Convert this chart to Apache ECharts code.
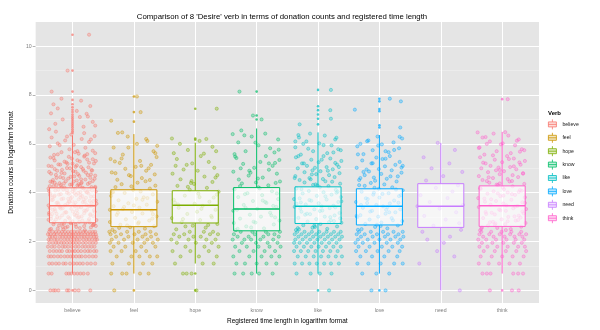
<!DOCTYPE html>
<html><head><meta charset="utf-8">
<script src="https://cdn.jsdelivr.net/npm/echarts@6/dist/echarts.min.js"></script>
<style>html,body{margin:0;padding:0;background:#fff}#c{width:600px;height:330px}</style>
</head><body><div id="c"></div>
<script>
const verbs = ['believe','feel','hope','know','like','love','need','think'];
const colors = ['#F8766D','#CD9600','#7CAE00','#00BE67','#00BFC4','#00A9FF','#C77CFF','#FF61CC'];
const yTicks = [0,2,4,6,8,10];
const yMinor = [1,3,5,7,9];
const xTicks = [1,2,3,4,5,6,7,8];

// box statistics (lower whisker, Q1, median, Q3, upper whisker)
const boxLo  = [0.69,0.69,1.10,0.69,0.69,0.69,0.00,0.69];
const boxQ1  = [2.77,2.61,2.76,2.44,2.74,2.68,2.58,2.62];
const boxMed = [3.47,3.30,3.49,3.33,3.45,3.45,3.45,3.47];
const boxQ3  = [4.20,4.12,4.08,4.21,4.24,4.16,4.37,4.28];
const boxHi  = [6.35,6.40,6.05,6.63,6.47,6.36,6.04,6.49];

// outliers (drawn at category centre)
const outBelieve = [0,6.45,6.52,6.6,6.68,6.75,6.82,6.9,6.98,7.05,7.12,7.2,7.3,7.4,7.5,7.62,7.8,8.14,9.0,10.47];
const outFeel = [0,6.91,7.3,7.94];
const outHope = [0,0.69,6.17,6.22,7.44];
const outKnow = [7.0,7.16,8.14];
const outLike = [0,6.8,7.03,7.2,7.38,7.54,8.21];
const outLove = [0,6.67,6.76,7.34,7.43,7.74,7.85];
const outNeed = [];
const outThink = [0,7.83];

// jittered points: pairs of (offset in 1/100 category, value)
const ptsBelieve = [
-36,0,-31,0,-28,0,-23,0,-9,0,-6,0,4,0,10,0,29,0,
-39,.69,-34,.69,-10,.69,-6,.69,-2,.69,3,.69,8,.69,13,.69,18,.69,25,.69,
-38,1.1,-33,1.1,-27,1.1,-22,1.1,-15,1.1,-11,1.1,-4,1.1,2,1.1,7,1.1,12,1.1,17,1.1,24,1.1,30,1.1,37,1.1,
-39,1.39,-35,1.39,-30,1.39,-24,1.39,-19,1.39,-13,1.39,-8,1.39,-3,1.39,1,1.39,6,1.39,11,1.39,15,1.39,21,1.39,27,1.39,33,1.39,38,1.39,
-37,1.61,-31,1.61,-26,1.61,-21,1.61,-17,1.61,-9,1.61,-5,1.61,0,1.61,4,1.61,9,1.61,14,1.61,20,1.61,25,1.61,29,1.61,35,1.61,39,1.61,
-40,1.79,-34,1.79,-29,1.79,-22,1.79,-16,1.79,-12,1.79,-7,1.79,-1,1.79,5,1.79,10,1.79,16,1.79,21,1.79,26,1.79,31,1.79,36,1.79,
-38,1.95,-32,1.95,-27,1.95,-23,1.95,-18,1.95,-14,1.95,-9,1.95,-4,1.95,1,1.95,6,1.95,11,1.95,17,1.95,22,1.95,28,1.95,33,1.95,38,1.95,
-39,2.08,-35,2.08,-29,2.08,-25,2.08,-19,2.08,-13,2.08,-8,2.08,-3,2.08,3,2.08,7,2.08,12,2.08,18,2.08,23,2.08,27,2.08,32,2.08,37,2.08,40,2.08,
-37,2.2,-33,2.2,-28,2.2,-21,2.2,-16,2.2,-11,2.2,-6,2.2,-1,2.2,4,2.2,9,2.2,15,2.2,19,2.2,24,2.2,30,2.2,35,2.2,39,2.2,
-40,2.3,-36,2.3,-30,2.3,-26,2.3,-20,2.3,-15,2.3,-10,2.3,-5,2.3,0,2.3,5,2.3,10,2.3,14,2.3,20,2.3,25,2.3,29,2.3,34,2.3,38,2.3,
-38,2.4,-32,2.4,-27,2.4,-22,2.4,-17,2.4,-12,2.4,-7,2.4,-2,2.4,3,2.4,8,2.4,13,2.4,18,2.4,22,2.4,28,2.4,33,2.4,37,2.4,
-35,2.52,12,2.55,-8,2.61,30,2.58,-22,2.66,5,2.7,38,2.64,-14,2.73,21,2.77,-30,2.8,0,2.83,16,2.86,-39,2.89,27,2.92,-5,2.95,9,2.98,
-25,3.01,34,3.04,-17,3.07,3,3.1,-33,3.13,19,3.16,-10,3.19,36,3.22,-28,3.25,7,3.28,24,3.31,-2,3.34,-37,3.37,14,3.4,-20,3.43,31,3.46,
-12,3.49,2,3.52,39,3.55,-26,3.58,17,3.61,-6,3.64,28,3.67,-34,3.7,10,3.73,-15,3.76,22,3.79,-1,3.82,35,3.85,-29,3.88,6,3.91,-19,3.94,
26,3.97,-9,4.0,13,4.03,-38,4.06,32,4.09,-23,4.12,1,4.15,18,4.18,-13,4.21,37,4.24,-31,4.27,8,4.3,-4,4.33,25,4.36,-21,4.39,15,4.42,
-36,4.45,33,4.48,
20,2.47,-16,2.6,35,2.71,-3,2.75,-27,2.9,11,3.0,29,3.12,-11,3.21,-32,3.3,4,3.44,23,3.5,-24,3.6,38,3.68,-7,3.75,16,3.86,-36,3.95,
0,4.05,27,4.14,-18,4.23,10,4.35,-29,4.41,34,2.68,-12,2.85,6,3.06,-38,3.18,19,3.27,-21,3.39,31,3.57,-1,3.66,-33,3.8,13,3.9,24,4.02,
-9,4.1,37,4.2,-26,4.31,2,4.46,-15,2.5,28,2.79,-35,3.03,8,3.15,-19,3.35,36,3.47,-5,3.62,18,3.72,-30,3.84,3,3.99,21,4.08,-39,4.17,
12,4.28,-14,4.38,
-37,2.49,-24,2.53,-11,2.57,6,2.6,19,2.63,33,2.67,-31,2.71,-17,2.74,-3,2.78,11,2.81,26,2.85,39,2.88,-35,2.93,-21,2.97,-7,3.0,15,3.03,
29,3.08,-38,3.11,-26,3.14,-13,3.18,1,3.22,22,3.26,35,3.29,-29,3.33,-16,3.36,10,3.41,27,3.45,-39,3.48,-23,3.53,-8,3.56,5,3.6,20,3.63,
34,3.66,-32,3.71,-18,3.74,-3,3.78,13,3.81,30,3.84,-36,3.89,-22,3.92,-6,3.96,9,3.99,23,4.02,38,4.05,-28,4.09,-15,4.13,4,4.16,16,4.2,
31,4.23,-37,4.27,-19,4.31,-1,4.34,14,4.38,28,4.41,-33,4.44,-11,4.47,7,4.5,21,4.54,36,4.57,-26,4.61,-3,4.65,11,4.69,25,4.72,-35,4.78,
-18,4.81,5,4.86,18,4.9,31,4.93,-29,4.97,-9,5.01,14,5.05,-39,5.1,-20,5.15,0,5.19,27,5.23,-13,5.27,8,5.33,33,5.37,-31,5.42,-6,5.47,
20,5.52,-24,5.57,37,5.62,4,5.66,
-32,4.52,14,4.55,-7,4.58,29,4.61,-20,4.64,3,4.67,37,4.7,-27,4.73,9,4.76,-13,4.79,22,4.82,-38,4.85,1,4.88,32,4.91,-17,4.94,17,4.97,
-4,5.0,26,5.04,-34,5.08,7,5.12,-23,5.16,35,5.2,-10,5.24,12,5.28,-29,5.32,24,5.36,-1,5.4,-36,5.44,19,5.48,-15,4.6,30,4.75,-25,4.9,
5,5.06,38,5.3,-8,5.18,
-30,5.55,10,5.6,-18,5.66,33,5.72,-5,5.78,21,5.84,-37,5.9,2,5.96,-24,6.02,27,6.08,-12,6.14,15,6.2,-34,6.26,36,6.32,-2,6.38,19,6.44,
-27,6.5,8,5.7,-21,5.95,30,6.18,-9,6.3,24,5.58,
-38,6.6,18,6.7,-28,6.82,33,6.9,-16,7.0,25,7.12,-35,7.25,7,7.35,-24,7.45,29,7.55,-31,7.62,12,7.1,-18,7.85,14,7.77,37,6.75,23,7.23,
27,10.47,-34,8.14,-8,9.0
];
const ptsFeel = [
-32,0,
-37,.69,-19,.69,-12,.69,10,.69,24,.69,
-35,1.1,-8,1.1,15,1.1,30,1.1,
-28,1.39,-4,1.39,9,1.39,26,1.39,38,1.39,
-38,1.61,-20,1.61,3,1.61,20,1.61,
-33,1.79,-14,1.79,12,1.79,35,1.79,
-25,1.95,-2,1.95,17,1.95,31,1.95,-39,1.95,
-36,2.08,-16,2.08,6,2.08,22,2.08,39,2.08,
-29,2.2,-9,2.2,14,2.2,28,2.2,
-38,2.3,-21,2.3,1,2.3,19,2.3,36,2.3,
-31,2.4,-11,2.4,8,2.4,27,2.4,-40,2.4,
-35,2.48,18,2.53,-6,2.59,33,2.63,-22,2.69,7,2.74,-39,2.8,25,2.86,-13,2.91,2,2.97,37,3.03,-28,3.09,14,3.15,-3,3.21,29,3.27,-18,3.33,
9,3.39,-33,3.45,21,3.51,-9,3.57,38,3.63,-25,3.69,4,3.75,16,3.81,-37,3.87,31,3.93,-15,3.99,11,4.05,-1,4.11,26,4.17,-30,4.23,35,4.29,
-20,4.35,6,4.41,19,4.47,-11,2.66,30,2.94,-26,3.18,0,3.48,22,3.78,-34,4.02,
-24,2.56,8,2.79,31,3.12,-16,3.42,14,3.71,-36,4.0,-4,4.26,26,4.52,-30,4.8,12,5.1,-20,5.4,35,5.62,-9,5.85,20,6.2,-39,3.3,
-27,4.53,13,4.6,-5,4.68,34,4.75,-36,4.83,20,4.9,-14,4.98,3,5.06,28,5.14,-23,5.22,10,5.3,-38,5.38,37,5.46,-8,4.72,24,5.0,-31,5.28,
-18,5.56,32,5.7,-33,5.85,5,6.0,22,6.12,-10,6.3,38,5.92,-26,6.45,
5,7.94,11,7.3,-37,6.95,-19,6.47
];
const ptsHope = [
2,0,
-20,.69,-14,.69,-6,.69,
-33,1.1,12,1.1,30,1.1,
-24,1.39,6,1.39,35,1.39,
-37,1.61,-8,1.61,22,1.61,
-16,1.79,15,1.79,38,1.79,
-30,1.95,1,1.95,27,1.95,
-39,2.08,-11,2.08,18,2.08,33,2.08,
-26,2.2,9,2.2,-3,2.2,
-35,2.3,-18,2.3,24,2.3,37,2.3,
-9,2.4,14,2.4,29,2.4,
-31,2.5,17,2.57,-4,2.65,36,2.72,-22,2.8,8,2.88,-38,2.96,26,3.05,-13,3.13,3,3.22,33,3.3,-27,3.38,12,3.46,-1,3.55,23,3.63,-35,3.71,
30,3.8,-17,3.88,5,3.96,38,4.04,-9,4.12,19,4.2,-29,4.28,-2,4.36,28,4.44,-20,2.92,10,3.34,-33,3.59,35,3.92,-12,4.24,21,2.68,-6,4.48,
-16,2.62,27,2.99,-28,3.52,7,3.82,-7,4.4,33,4.62,-32,5.1,14,5.6,
-24,4.55,15,4.66,-37,4.78,4,4.9,31,5.02,-14,5.14,22,5.26,-30,5.38,9,5.5,36,4.72,-5,5.2,-19,4.95,
-35,5.62,-12,5.75,28,5.88,-25,6.0,7,6.12,18,6.2,-38,6.22,34,5.7,
35,7.44
];
const ptsKnow = [
-36,.69,-22,.69,-8,.69,4,.69,26,.69,
-33,1.1,-19,1.1,0,1.1,16,1.1,32,1.1,
-38,1.39,-12,1.39,8,1.39,24,1.39,37,1.39,
-28,1.61,-5,1.61,13,1.61,30,1.61,
-35,1.79,-16,1.79,3,1.79,21,1.79,39,1.79,
-24,1.95,-1,1.95,18,1.95,34,1.95,
-39,2.08,-20,2.08,6,2.08,27,2.08,-9,2.08,
-31,2.2,-13,2.2,11,2.2,36,2.2,
-37,2.3,-3,2.3,19,2.3,29,2.3,
-26,2.4,-7,2.4,15,2.4,38,2.4,
-34,2.47,12,2.54,-17,2.62,28,2.7,-2,2.78,37,2.86,-27,2.94,7,3.02,-11,3.1,22,3.18,-38,3.26,1,3.34,32,3.42,-21,3.5,16,3.58,-6,3.66,
35,3.74,-30,3.82,9,3.9,-15,3.98,25,4.06,-36,4.14,3,4.22,19,4.3,-24,4.38,38,4.46,-9,2.58,30,2.99,-32,3.3,14,3.62,-19,3.94,5,4.18,
-1,4.42,27,3.46,-37,2.76,
-31,2.52,-5,2.81,24,3.07,-18,3.38,10,3.68,33,3.97,-27,4.27,2,4.58,-12,4.9,20,5.2,-35,5.48,36,5.76,-2,6.05,-20,6.35,31,4.4,
-29,4.54,10,4.62,-13,4.7,33,4.78,-38,4.86,20,4.94,-4,5.02,26,5.1,-22,5.18,6,5.26,37,5.34,-33,5.42,15,5.5,-10,4.82,30,5.22,-26,5.0,
-36,5.58,-18,5.7,22,5.82,3,5.94,-30,6.06,35,6.18,-8,6.3,14,6.42,-25,6.55,29,5.65,-39,6.4,
-28,8.14,-6,7.16,8,7.0
];
const ptsLike = [
18,0,
-35,.69,-12,.69,3,.69,22,.69,
-38,1.1,-26,1.1,-14,1.1,-2,1.1,10,1.1,21,1.1,34,1.1,
-33,1.39,-20,1.39,-7,1.39,5,1.39,17,1.39,29,1.39,39,1.39,
-39,1.61,-28,1.61,-16,1.61,-4,1.61,8,1.61,20,1.61,32,1.61,
-35,1.79,-23,1.79,-11,1.79,1,1.79,13,1.79,25,1.79,37,1.79,
-30,1.95,-18,1.95,-6,1.95,6,1.95,18,1.95,30,1.95,-39,1.95,
-37,2.08,-25,2.08,-13,2.08,-1,2.08,11,2.08,23,2.08,35,2.08,
-32,2.2,-20,2.2,-8,2.2,4,2.2,16,2.2,28,2.2,39,2.2,
-38,2.3,-27,2.3,-15,2.3,-3,2.3,9,2.3,21,2.3,33,2.3,
-34,2.4,-22,2.4,-10,2.4,2,2.4,14,2.4,26,2.4,37,2.4,
-36,2.47,15,2.52,-9,2.57,31,2.62,-24,2.67,4,2.72,38,2.77,-17,2.82,21,2.87,-3,2.92,-32,2.97,11,3.02,27,3.07,-13,3.12,35,3.17,-27,3.22,
7,3.27,-6,3.32,19,3.37,-38,3.42,25,3.47,-20,3.52,1,3.57,33,3.62,-11,3.67,14,3.72,-30,3.77,37,3.82,-2,3.87,22,3.92,-25,3.97,9,4.02,
-15,4.07,29,4.12,-35,4.17,3,4.22,17,4.27,-8,4.32,36,4.37,-22,4.42,12,4.47,-33,2.55,26,2.84,-18,3.14,6,3.44,-39,3.74,32,4.04,-4,4.34,
20,3.0,-28,3.6,
-31,2.5,-6,2.65,18,2.8,36,2.95,-21,3.1,3,3.25,28,3.4,-35,3.55,-14,3.7,12,3.85,30,4.0,-27,4.15,-1,4.3,23,4.45,-38,4.6,-10,4.75,
16,4.9,34,5.05,-23,5.2,6,5.35,-32,5.5,25,5.65,-16,5.8,9,5.95,-37,6.1,30,6.25,-5,2.6,-29,3.35,38,3.65,-12,4.55,
-30,4.52,8,4.56,-14,4.6,27,4.64,-37,4.68,18,4.72,-3,4.76,35,4.8,-22,4.84,4,4.88,-9,4.92,24,4.96,-33,5.0,14,5.05,-18,5.1,31,5.15,
-26,5.2,1,5.25,38,5.3,-11,5.35,20,5.4,-36,5.45,9,5.5,-5,5.02,28,5.22,
-28,5.56,15,5.62,-8,5.7,33,5.78,-37,5.86,22,5.94,2,6.02,-19,6.1,28,6.18,-31,6.26,11,6.34,-13,6.42,37,5.74,-24,6.0,-32,6.36,
21,8.21,20,7.38,-30,6.8,21,7.03
];
const ptsLove = [
-13,0,10,0,
-28,.69,-5,.69,16,.69,
-36,1.1,-18,1.1,2,1.1,24,1.1,38,1.1,
-31,1.39,-12,1.39,8,1.39,29,1.39,
-38,1.61,-22,1.61,-3,1.61,15,1.61,33,1.61,
-34,1.79,-16,1.79,4,1.79,21,1.79,37,1.79,
-27,1.95,-8,1.95,12,1.95,30,1.95,-39,1.95,
-35,2.08,-19,2.08,0,2.08,18,2.08,34,2.08,
-30,2.2,-11,2.2,9,2.2,26,2.2,39,2.2,
-37,2.3,-24,2.3,-4,2.3,14,2.3,31,2.3,
-33,2.4,-14,2.4,6,2.4,23,2.4,38,2.4,
-35,2.48,13,2.54,-7,2.6,30,2.66,-23,2.72,3,2.78,37,2.84,-16,2.9,20,2.96,-2,3.02,-31,3.08,10,3.14,26,3.2,-12,3.26,34,3.32,-27,3.38,
6,3.44,-5,3.5,17,3.56,-38,3.62,24,3.68,-19,3.74,0,3.8,32,3.86,-10,3.92,15,3.98,-29,4.04,38,4.1,-1,4.16,21,4.22,-24,4.28,8,4.34,
-14,4.4,28,4.46,-36,3.0,11,3.3,-20,3.58,35,3.9,-8,4.2,2,2.64,
-29,2.51,-4,2.69,22,2.87,-37,3.05,-15,3.23,13,3.41,31,3.59,-22,3.77,5,3.95,27,4.13,-33,4.31,-7,4.49,18,4.67,-26,4.85,36,5.03,-11,5.21,
10,5.39,-35,5.57,24,5.75,-2,5.93,-20,6.11,33,6.29,-30,3.5,16,3.2,-9,4.0,
-33,4.52,12,4.57,-9,4.62,30,4.67,-24,4.72,3,4.77,36,4.82,-17,4.87,20,4.92,-1,4.97,-37,5.02,9,5.08,26,5.14,-13,5.2,33,5.26,-28,5.32,
5,5.38,-5,5.44,17,5.5,-21,4.95,38,5.1,-31,4.6,
-26,5.58,15,5.66,-11,5.74,32,5.82,-36,5.9,4,5.98,23,6.06,-18,6.14,37,6.22,-3,6.3,-31,6.0,10,5.7,
17,7.85,35,7.74,-40,7.4,34,6.67
];
const ptsNeed = [
31,0,-35,1.1,22,1.39,-6,1.61,5,1.95,-22,2.08,15,2.2,-30,2.4,33,2.48,-12,2.65,8,2.9,-27,3.05,25,3.2,-2,3.35,36,3.5,-18,3.62,
11,3.78,-33,3.9,19,4.05,-8,4.2,28,4.3,-24,4.5,4,4.68,35,4.85,-15,5.0,14,5.2,-28,5.45,23,5.75,-5,6.04,30,2.75,-38,3.45
];
const ptsThink = [
-20,0,16,0,27,0,
-32,.69,-25,.69,-19,.69,18,.69,26,.69,34,.69,
-38,1.1,-22,1.1,-5,1.1,12,1.1,29,1.1,
-35,1.39,-17,1.39,0,1.39,17,1.39,35,1.39,
-30,1.61,-12,1.61,6,1.61,23,1.61,39,1.61,
-37,1.79,-24,1.79,-8,1.79,9,1.79,26,1.79,37,1.79,
-33,1.95,-16,1.95,2,1.95,19,1.95,32,1.95,
-39,2.08,-26,2.08,-10,2.08,7,2.08,22,2.08,36,2.08,
-31,2.2,-14,2.2,4,2.2,20,2.2,33,2.2,
-37,2.3,-21,2.3,-4,2.3,13,2.3,28,2.3,39,2.3,
-34,2.4,-18,2.4,-1,2.4,15,2.4,31,2.4,
-36,2.46,14,2.51,-8,2.56,31,2.61,-23,2.66,5,2.71,38,2.76,-15,2.81,22,2.86,-1,2.91,-31,2.96,10,3.01,27,3.06,-12,3.11,35,3.16,-27,3.21,
6,3.26,-5,3.31,18,3.36,-38,3.41,25,3.46,-19,3.51,2,3.56,33,3.61,-10,3.66,15,3.71,-29,3.76,37,3.81,-3,3.86,21,3.91,-24,3.96,9,4.01,
-14,4.06,29,4.11,-35,4.16,1,4.21,17,4.26,-7,4.31,36,4.36,-21,4.41,12,4.46,-33,2.58,26,2.88,-17,3.18,7,3.48,-39,3.78,32,4.08,-4,4.38,
20,3.03,-28,3.63,39,3.33,-11,2.74,3,4.14,-25,4.48,16,3.94,
-34,2.53,-12,2.69,9,2.83,30,2.98,-26,3.13,-3,3.28,21,3.43,37,3.58,-18,3.73,2,3.88,27,4.03,-36,4.18,-9,4.33,16,4.48,-22,4.63,34,4.78,
-4,4.93,19,5.08,-31,5.23,11,5.38,-15,5.53,29,5.68,-38,5.83,-2,5.98,24,6.13,-27,6.28,6,2.47,-20,2.79,33,3.23,-7,3.97,
-32,4.52,9,4.56,-15,4.6,26,4.64,-38,4.68,17,4.72,-4,4.76,34,4.8,-23,4.84,3,4.88,-10,4.92,23,4.96,-34,5.0,13,5.05,-19,5.1,30,5.15,
-27,5.2,0,5.25,37,5.3,-12,5.35,19,5.4,-36,5.45,8,5.5,-6,5.03,28,5.24,
-29,5.56,14,5.62,-9,5.7,32,5.78,-37,5.86,21,5.94,1,6.02,-20,6.1,27,6.18,-32,6.26,10,6.34,-14,6.42,36,5.74,-25,6.0,5,6.48,-40,6.47,
9,7.83
];

const ptLists = [ptsBelieve, ptsFeel, ptsHope, ptsKnow, ptsLike, ptsLove, ptsNeed, ptsThink];
const outLists = [outBelieve, outFeel, outHope, outKnow, outLike, outLove, outNeed, outThink];

function rgba(hex, a) {
  const n = parseInt(hex.slice(1), 16);
  return 'rgba(' + (n >> 16) + ',' + ((n >> 8) & 255) + ',' + (n & 255) + ',' + a + ')';
}
const FONT = "'Liberation Sans', Arial, Helvetica, sans-serif";
const BOX_W = 0.75;

const pointData = [];
ptLists.forEach((arr, i) => {
  for (let k = 0; k < arr.length; k += 2) {
    pointData.push({ value: [i + 1 + arr[k] / 100, arr[k + 1]],
      itemStyle: { color: rgba(colors[i], 0.38), borderColor: rgba(colors[i], 0.8) } });
  }
});
const outlierData = [];
outLists.forEach((arr, i) => {
  arr.forEach(v => outlierData.push({ value: [i + 1, v], itemStyle: { color: rgba(colors[i], 0.9) } }));
});

const gridLines = [];
yTicks.forEach(v => gridLines.push({ yAxis: v, lineStyle: { color: '#ffffff', width: 1, type: 'solid' } }));
yMinor.forEach(v => gridLines.push({ yAxis: v, lineStyle: { color: '#F2F2F2', width: 0.5, type: 'solid' } }));
xTicks.forEach(v => gridLines.push({ xAxis: v, lineStyle: { color: '#ffffff', width: 1, type: 'solid' } }));

function renderBox(params, api) {
  const c = colors[params.seriesIndex - 3];
  const x = api.value(0), lo = api.value(1), q1 = api.value(2), md = api.value(3), q3 = api.value(4), hi = api.value(5);
  const h = BOX_W / 2;
  const tl = api.coord([x - h, q3]), br = api.coord([x + h, q1]);
  const m0 = api.coord([x - h, md]), m1 = api.coord([x + h, md]);
  const pHi = api.coord([x, hi]), pQ3 = api.coord([x, q3]), pQ1 = api.coord([x, q1]), pLo = api.coord([x, lo]);
  return { type: 'group', children: [
    { type: 'line', shape: { x1: pHi[0], y1: pHi[1], x2: pQ3[0], y2: pQ3[1] }, style: { stroke: c, lineWidth: 1 } },
    { type: 'line', shape: { x1: pQ1[0], y1: pQ1[1], x2: pLo[0], y2: pLo[1] }, style: { stroke: c, lineWidth: 1 } },
    { type: 'rect', shape: { x: tl[0], y: tl[1], width: br[0] - tl[0], height: br[1] - tl[1] },
      style: { fill: 'rgba(255,255,255,0.66)', stroke: c, lineWidth: 1 } },
    { type: 'line', shape: { x1: m0[0], y1: m0[1], x2: m1[0], y2: m1[1] }, style: { stroke: c, lineWidth: 1.5 } }
  ] };
}

const series = [
  { type: 'scatter', name: '_grid', data: [], z: 1,
    markLine: { silent: true, symbol: 'none', z: 1, animation: false, label: { show: false },
      lineStyle: { type: 'solid' }, emphasis: { disabled: true }, data: gridLines } },
  { type: 'scatter', name: '_pts', data: pointData, z: 2, symbolSize: 3.2, silent: true,
    itemStyle: { borderWidth: 0.6 } },
  { type: 'scatter', name: '_out', data: outlierData, z: 4, symbolSize: 2.6, silent: true }
];
verbs.forEach((v, i) => {
  series.push({ type: 'custom', name: v, z: 3, silent: true, renderItem: renderBox,
    encode: { x: 0, y: [1, 2, 3, 4, 5] },
    itemStyle: { color: colors[i] },
    data: [[i + 1, boxLo[i], boxQ1[i], boxMed[i], boxQ3[i], boxHi[i]]] });
});

const chart = echarts.init(document.getElementById('c'), null, { renderer: 'canvas' });
chart.setOption({
  animation: false,
  textStyle: { fontFamily: FONT },
  grid: { left: 25, right: 61, top: 22, bottom: 23, show: true, backgroundColor: '#E5E5E5', borderWidth: 0 },
  xAxis: { type: 'value', min: 0.4, max: 8.6,
    name: 'Registered time length in logarithm format', nameLocation: 'middle', nameGap: 13,
    nameTextStyle: { fontSize: 6.5, color: '#000', fontFamily: FONT },
    axisLine: { show: false }, splitLine: { show: false },
    axisTick: { show: true, length: 3, lineStyle: { color: '#7F7F7F', width: 0.6 }, customValues: xTicks },
    axisLabel: { fontSize: 5.2, color: '#7F7F7F', margin: 5, fontFamily: FONT, customValues: xTicks,
      formatter: v => verbs[Math.round(v) - 1] } },
  yAxis: { type: 'value', min: -0.52, max: 10.99,
    name: 'Donation counts in logarithm format', nameLocation: 'middle', nameGap: 11,
    nameTextStyle: { fontSize: 6.5, color: '#000', fontFamily: FONT },
    axisLine: { show: false }, splitLine: { show: false },
    axisTick: { show: true, length: 3, lineStyle: { color: '#7F7F7F', width: 0.6 }, customValues: yTicks },
    axisLabel: { fontSize: 5.2, color: '#7F7F7F', margin: 4, fontFamily: FONT, customValues: yTicks } },
  legend: { orient: 'vertical', left: 548, top: 119, itemWidth: 10, itemHeight: 10, itemGap: 2.6, padding: 0,
    selectedMode: false, textStyle: { fontSize: 5.2, color: '#1a1a1a', fontFamily: FONT },
    data: verbs.map((v, i) => ({ name: v,
      icon: 'path://M1,2.5L9,2.5L9,7.5L1,7.5Z M1,5L9,5 M5,0L5,2.5 M5,7.5L5,10',
      itemStyle: { color: rgba(colors[i], 0.25), borderColor: colors[i], borderWidth: 0.8 } })) },
  graphic: [
    { type: 'text', x: 282, y: 17, silent: true,
      style: { text: "Comparison of 8 'Desire' verb in terms of donation counts and registered time length",
        fontSize: 7.8, fontFamily: FONT, fill: '#000', align: 'center', verticalAlign: 'middle',
        textAlign: 'center', textVerticalAlign: 'middle' } },
    { type: 'text', x: 548, y: 113, silent: true,
      style: { text: 'Verb', fontSize: 6, fontWeight: 'bold', fontFamily: FONT, fill: '#000',
        align: 'left', verticalAlign: 'middle', textAlign: 'left', textVerticalAlign: 'middle' } }
  ],
  series: series
});
</script>
</body></html>
